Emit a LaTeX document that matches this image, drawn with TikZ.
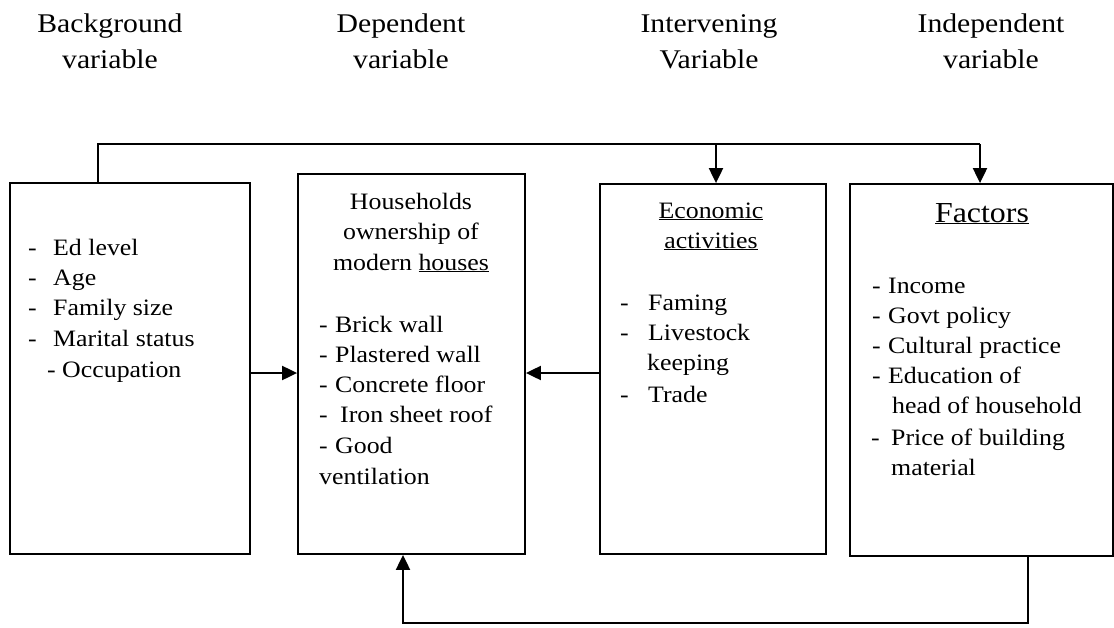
\documentclass[tikz,border=0pt]{standalone}
\usepackage{fontspec}
\setmainfont[FakeStretch=1.1]{Liberation Serif}
\usetikzlibrary{arrows.meta}
\tikzset{
  box/.style={draw, line width=1.8pt, inner sep=0pt},
  conn/.style={line width=2pt},
  arr/.style={conn, -{Triangle[length=15pt,width=14pt]}},
  head/.style={anchor=base, inner sep=0pt, font=\fontsize{27}{34}\selectfont},
  txt/.style={anchor=base west, inner sep=0pt, font=\fontsize{23.5}{30}\selectfont},
  ctxt/.style={anchor=base, inner sep=0pt, font=\fontsize{23.5}{30}\selectfont},
}
\newcommand{\dl}[2]{\makebox[#1pt][l]{-}#2}
\begin{document}
\begin{tikzpicture}[x=1pt,y=-1pt]
\useasboundingbox (0,0) rectangle (1114,627);
% headers
\node[head] (h1a) at (110,32) {Background};
\node[head] (h1b) at (110,68) {variable};
\node[head] (h2a) at (401,32) {Dependent};
\node[head] (h2b) at (401,68) {variable};
\node[head] (h3a) at (709,32) {Intervening};
\node[head] (h3b) at (709,68) {Variable};
\node[head] (h4a) at (991,32) {Independent};
\node[head] (h4b) at (991,68) {variable};
% boxes
\node[box, minimum width=240pt, minimum height=371pt] (b1) at (130,368.5) {};
\node[box, minimum width=227pt, minimum height=380pt] (b2) at (411.5,364) {};
\node[box, minimum width=226pt, minimum height=370pt] (b3) at (713,369) {};
\node[box, minimum width=263pt, minimum height=372pt] (b4) at (981.5,370) {};
% box 1 text
\node[txt] (t11) at (28,255) {\dl{25}{Ed level}};
\node[txt] (t12) at (28,285) {\dl{25}{Age}};
\node[txt] (t13) at (28,315) {\dl{25}{Family size}};
\node[txt] (t14) at (28,346) {\dl{25}{Marital status}};
\node[txt] (t15) at (47,377) {- Occupation};
% box 2 text
\node[ctxt] (t21) at (411,209) {Households};
\node[ctxt] (t22) at (411,239.5) {ownership of};
\node[ctxt] (t23) at (411,270) {modern \underline{houses}};
\node[txt] (t24) at (319,332) {\dl{16}{Brick wall}};
\node[txt] (t25) at (319,362) {\dl{16}{Plastered wall}};
\node[txt] (t26) at (319,392) {\dl{16}{Concrete floor}};
\node[txt] (t27) at (319,422) {\dl{21}{Iron sheet roof}};
\node[txt] (t28) at (319,453) {\dl{16}{Good}};
\node[txt] (t29) at (319,484) {ventilation};
% box 3 text
\node[ctxt] (t31) at (711,218) {\underline{Economic}};
\node[ctxt] (t32) at (711,248) {\underline{activities}};
\node[txt] (t33) at (620,310) {\dl{28}{Faming}};
\node[txt] (t34) at (620,340) {\dl{28}{Livestock}};
\node[txt] (t35) at (647,370) {keeping};
\node[txt] (t36) at (620,402) {\dl{28}{Trade}};
% box 4 text
\node[ctxt, font=\fontsize{29}{34}\selectfont] (t41) at (982,222) {\underline{Factors}};
\node[txt] (t42) at (872,293) {\dl{16}{Income}};
\node[txt] (t43) at (872,323) {\dl{16}{Govt policy}};
\node[txt] (t44) at (872,353) {\dl{16}{Cultural practice}};
\node[txt] (t45) at (872,383) {\dl{16}{Education of}};
\node[txt] (t46) at (892,413) {head of household};
\node[txt] (t47) at (871,445) {\dl{20}{Price of building}};
\node[txt] (t48) at (891,475) {material};
% connectors
\coordinate (c1) at (98,144);
\coordinate (c2) at (716,144);
\coordinate (c3) at (980,144);
\coordinate (hm) at (0,373);
\coordinate (d1) at (1028,623);
\coordinate (d2) at (403,623);
\draw[conn] (c1 |- b1.north) -- (c1) -- (c3);
\draw[arr] (c2) -- (c2 |- b3.north);
\draw[arr] (c3) -- (c3 |- b4.north);
\draw[arr] (b1.east |- hm) -- (b2.west |- hm);
\draw[arr] (b3.west |- hm) -- (b2.east |- hm);
\draw[arr] (d1 |- b4.south) -- (d1) -- (d2) -- (d2 |- b2.south);
\end{tikzpicture}
\end{document}
